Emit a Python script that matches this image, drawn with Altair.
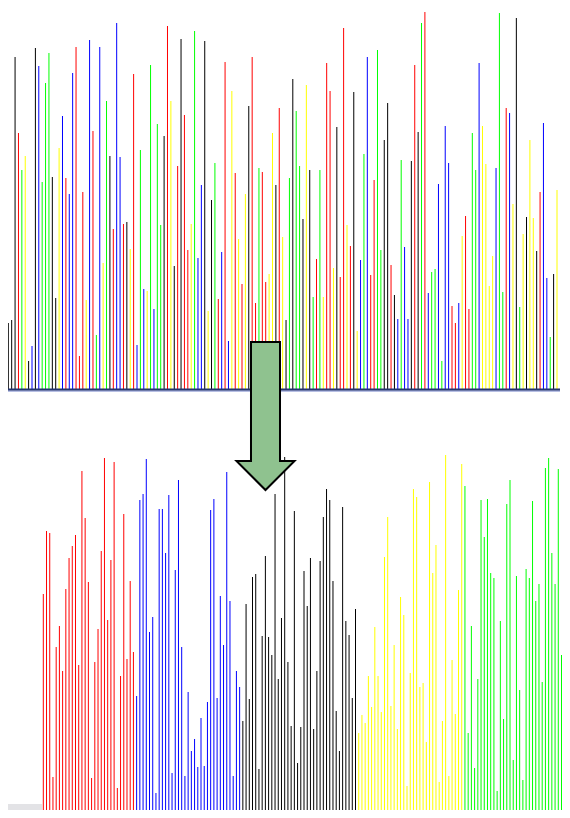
import altair as alt
import pandas as pd

# ---- top panel: unsorted sequence (colour code, height) ----
top_codes = list(
    "kkkrgykbkbgggkkybrbbrrrybrgbygkrbbrkyrbgb"
    "ygbggkrykrkrrygbbkykgrbrbyryrykrrgrryykry"
    "kgkggkykgrgyrrykrryrkybgbrrggkkrkbgbbkrkgr"
    "bggbgbbrrbyrrggbyyyybggrbykgykyykrbbgky"
)
top_heights = [
    66, 69, 332, 256, 219, 233, 28, 43, 341, 323, 207, 306, 336, 212, 91, 241,
    273, 211, 195, 316, 342, 33, 197, 89, 349, 258, 54, 342, 126, 288, 233, 160,
    366, 232, 165, 167, 140, 315, 44, 239, 100,
    98, 324, 80, 265, 164, 253, 363, 288, 123, 223, 350, 274, 139, 165, 358, 131,
    204, 348, 78, 189, 226, 90, 137, 327, 48, 298, 216, 150, 105, 195, 283, 332,
    86, 221, 217, 107, 115, 256, 204, 281,
    152, 69, 211, 310, 278, 223, 170, 304, 219, 92, 130, 219, 92, 326, 298, 121,
    262, 112, 361, 164, 143, 297, 58, 129, 235, 332, 114, 209, 339, 139, 249, 286,
    124, 94, 70, 229, 142, 70, 228, 324, 257, 366, 377,
    96, 117, 120, 205, 28, 263, 226, 83, 66, 86, 153, 173, 80, 256, 219, 326, 263,
    225, 103, 133, 221, 376, 97, 281, 276, 185, 371, 82, 155, 172, 249, 171, 138,
    197, 266, 111, 52, 115, 199,
]

# ---- bottom panel: grouped by colour ----
bottom_red = [222, 285, 283, 39, 169, 190, 145, 227, 258, 270, 281, 151, 345, 298,
              234, 38, 154, 187, 265, 358, 196, 256, 354, 28, 140, 302, 157, 235, 164]
bottom_blue = [120, 316, 322, 357, 184, 199, 23, 307, 307, 263, 321, 43, 246, 336,
               169, 40, 124, 65, 77, 49, 98, 50, 114, 306, 317, 118, 220, 171, 344,
               215, 40, 145, 129]
bottom_black = [95, 212, 117, 239, 242, 47, 180, 260, 179, 161, 322, 137, 198, 359,
                154, 90, 305, 53, 89, 245, 210, 258, 87, 145, 255, 299, 327, 316, 235,
                105, 65, 309, 195, 181, 118, 207]
bottom_yellow = [83, 101, 93, 140, 109, 189, 140, 104, 259, 299, 110, 171, 87, 219,
                 201, 30, 143, 327, 319, 129, 133, 74, 334, 243, 271, 34, 95, 361, 40,
                 156, 102, 226, 352]
bottom_green = [330, 83, 190, 48, 137, 316, 279, 317, 243, 238, 25, 195, 97, 312, 336,
                56, 240, 126, 36, 247, 238, 315, 215, 232, 134, 348, 358, 263, 232,
                347, 161]

color_codes = ["r", "b", "k", "y", "g"]
color_values = ["#ff0000", "#0000ff", "#000000", "#ffff00", "#00ff00"]

n_top = min(len(top_codes), len(top_heights))
df_top = pd.DataFrame({
    "idx": list(range(1, n_top + 1)),
    "c": top_codes[:n_top],
    "h": top_heights[:n_top],
})

bot_c, bot_h = [], []
for code, vals in zip(color_codes, [bottom_red, bottom_blue, bottom_black,
                                    bottom_yellow, bottom_green]):
    bot_c += [code] * len(vals)
    bot_h += vals
df_bot = pd.DataFrame({"idx": list(range(1, len(bot_h) + 1)), "c": bot_c, "h": bot_h})

cscale = alt.Scale(domain=color_codes, range=color_values)

top = alt.Chart(df_top).mark_rule(strokeWidth=1).encode(
    x=alt.X("idx:Q", scale=alt.Scale(domain=[1, n_top], range=[0.3, 549], nice=False, zero=False), axis=None),
    y=alt.Y("h:Q", scale=alt.Scale(domain=[0, 377], range=[381, 4], nice=False), axis=None),
    y2=alt.datum(0),
    color=alt.Color("c:N", scale=cscale, legend=None),
)

one = pd.DataFrame({"a": [0]})
baseline = alt.Chart(one).mark_rule(strokeWidth=2, color="#25356f").encode(
    x=alt.value(0), x2=alt.value(552), y=alt.value(381.5)
)
baseline_hi = alt.Chart(one).mark_rule(strokeWidth=1, color="#7080c8").encode(
    x=alt.value(0), x2=alt.value(552), y=alt.value(383)
)

bottom = alt.Chart(df_bot).mark_rule(strokeWidth=1).encode(
    x=alt.X("idx:Q", scale=alt.Scale(domain=[1, len(bot_h)], range=[35.3, 553.5], nice=False, zero=False), axis=None),
    y=alt.Y("h:Q", scale=alt.Scale(domain=[0, 361], range=[808, 447], nice=False), axis=None),
    y2=alt.value(802),
    color=alt.Color("c:N", scale=cscale, legend=None),
)

gray_band = alt.Chart(one).mark_rect(color="#e3e3e6").encode(
    x=alt.value(0), x2=alt.value(34), y=alt.value(796), y2=alt.value(802)
)

arrow_path = ("M -0.196 -1 L 0.196 -1 L 0.196 0.608 L 0.392 0.608 L 0 1 "
              "L -0.392 0.608 L -0.196 0.608 Z")
arrow = alt.Chart(one).mark_point(
    shape=arrow_path, size=21904, filled=True, fill="#8fc28f",
    stroke="#000000", strokeWidth=2, opacity=1
).encode(x=alt.value(257.5), y=alt.value(408))

chart = alt.layer(top, baseline_hi, baseline, gray_band, bottom, arrow).resolve_scale(
    x="independent", y="independent"
).properties(
    width=554, height=802, padding=0,
    autosize=alt.AutoSizeParams(type="none"),
).configure_view(strokeWidth=0)

chart.save("out.html", embed_options={"renderer": "svg", "actions": False})
